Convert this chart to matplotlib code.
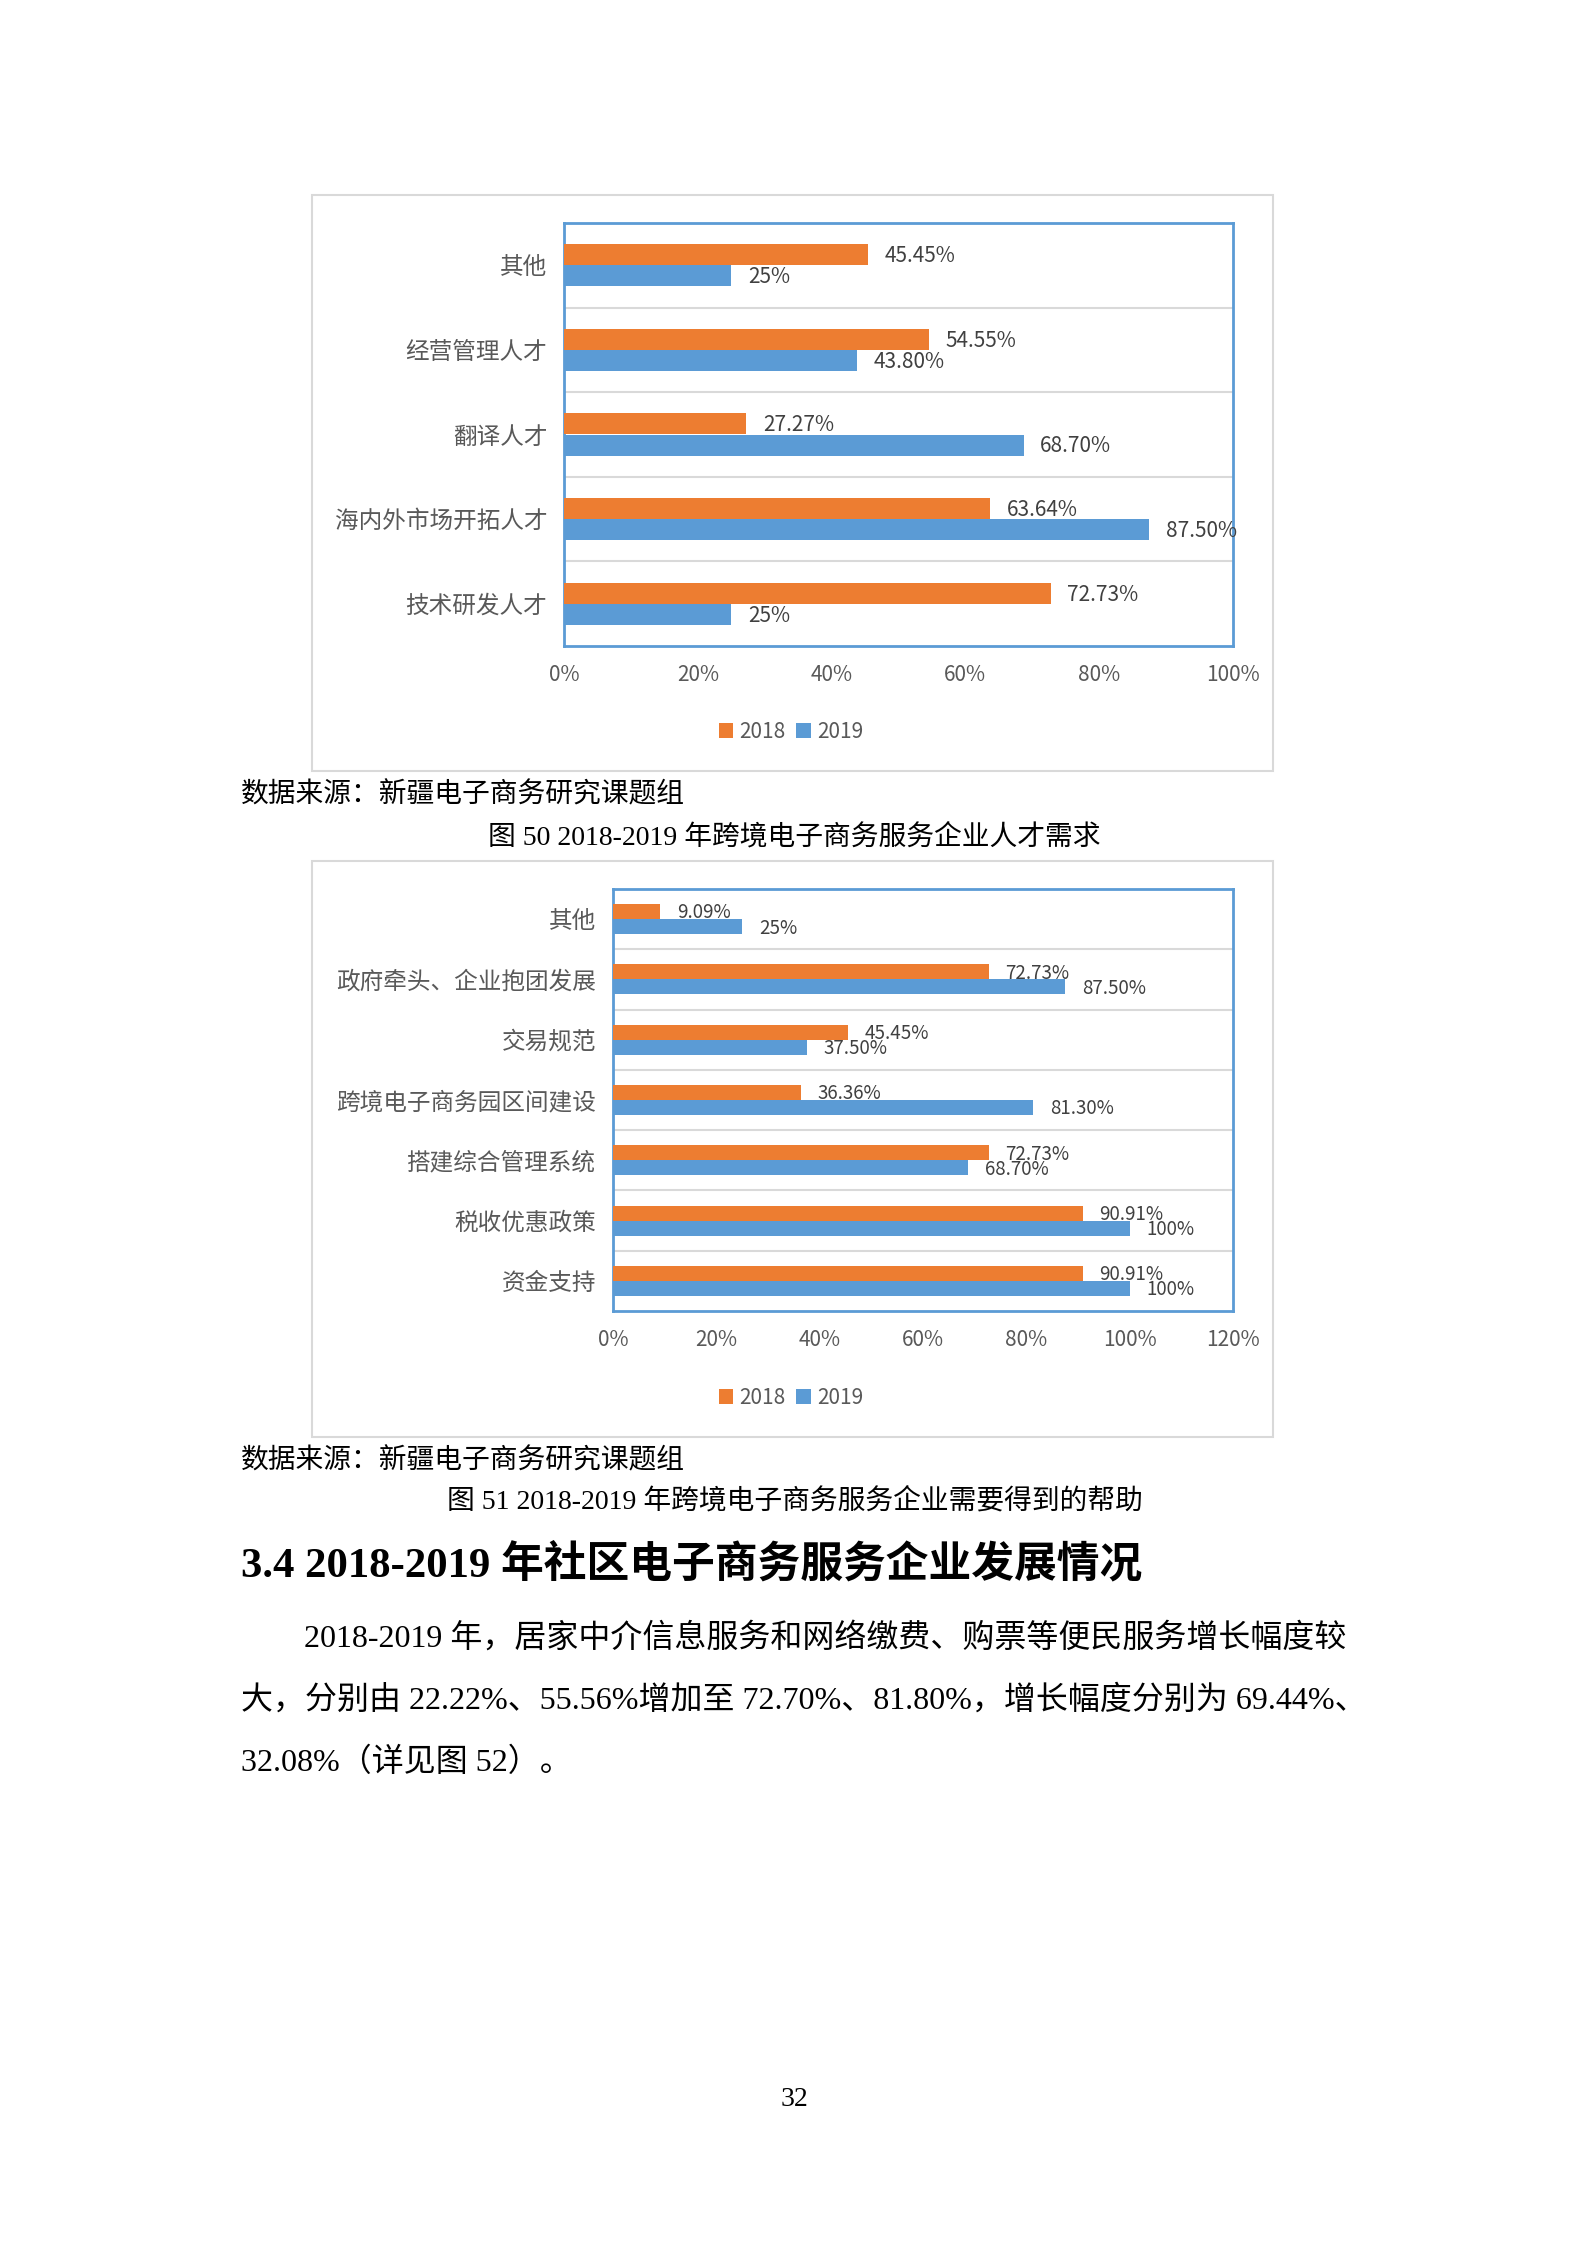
import numpy as np
import matplotlib
matplotlib.use("Agg")
import matplotlib.pyplot as plt
from matplotlib.patches import Rectangle

# page size in pixels
W, H = 1587, 2245
DPI = 100

# figure 50: talent demand
talent_cats = ['其他', '经营管理人才', '翻译人才', '海内外市场开拓人才', '技术研发人才']
talent_2018 = [45.45, 54.55, 27.27, 63.64, 72.73]
talent_2019 = [25, 43.80, 68.70, 87.50, 25]
talent_ticks = [0, 20, 40, 60, 80, 100]

# figure 51: help needed
help_cats = ['其他', '政府牵头、企业抱团发展', '交易规范', '跨境电子商务园区间建设',
             '搭建综合管理系统', '税收优惠政策', '资金支持']
help_2018 = [9.09, 72.73, 45.45, 36.36, 72.73, 90.91, 90.91]
help_2019 = [25, 87.50, 37.50, 81.30, 68.70, 100, 100]
help_ticks = [0, 20, 40, 60, 80, 100, 120]

years = ['2018', '2019']

ORANGE = '#ED7D31'
BLUE = '#5B9BD5'
GRID = '#D9D9D9'
LABEL = '#595959'
DATA = '#404040'

SANS = ['Noto Sans CJK SC', 'DejaVu Sans']
SERIF = ['Liberation Serif', 'Noto Sans CJK SC', 'DejaVu Sans']

plt.rcParams['font.family'] = SANS


def fx(px):
    return px / W


def fy(py):
    return 1 - py / H


def pct(v):
    if float(v).is_integer():
        return f"{v:.0f}%"
    return f"{v:.2f}%"


def draw_chart(fig, box, frame, cats, v18, v19, ticks, legend_y, dl_size):
    left, top, right, bottom = box
    fig.patches.append(Rectangle((fx(frame[0]), fy(frame[3])),
                                 fx(frame[2]) - fx(frame[0]), fy(frame[1]) - fy(frame[3]),
                                 transform=fig.transFigure, fill=False,
                                 edgecolor=GRID, lw=1.5))
    ax = fig.add_axes([fx(left), fy(bottom), fx(right) - fx(left), fy(top) - fy(bottom)])
    y = np.arange(len(cats))
    h = 0.25
    b1 = ax.barh(y - h / 2, v18, height=h, color=ORANGE, label=years[0], zorder=3)
    b2 = ax.barh(y + h / 2, v19, height=h, color=BLUE, label=years[1], zorder=3)
    ax.set_ylim(len(cats) - 0.5, -0.5)
    ax.set_xlim(ticks[0], ticks[-1])
    ax.set_xticks(ticks)
    ax.set_xticklabels([f"{t}%" for t in ticks])
    ax.set_yticks(y)
    ax.set_yticklabels(cats)
    ax.tick_params(axis='x', length=0, pad=13, labelsize=15, labelcolor=LABEL)
    ax.tick_params(axis='y', length=0, pad=12, labelsize=17, labelcolor=LABEL)
    for b in np.arange(0.5, len(cats) - 0.5):
        ax.axhline(b, color=GRID, lw=1.5, zorder=1)
    for s in ax.spines.values():
        s.set_color(BLUE)
        s.set_linewidth(2)
    # data labels just past the bar ends
    for yy, v in zip(y, v18):
        ax.annotate(pct(v), (v, yy - h / 2), xytext=(12, -1), textcoords='offset points',
                    ha='left', va='center', fontsize=dl_size, color=DATA, annotation_clip=False)
    for yy, v in zip(y, v19):
        ax.annotate(pct(v), (v, yy + h / 2), xytext=(12, -1), textcoords='offset points',
                    ha='left', va='center', fontsize=dl_size, color=DATA, annotation_clip=False)
    fig.legend([b1, b2], years, loc='center', bbox_to_anchor=(fx(791), fy(legend_y)),
               ncol=2, frameon=False, handlelength=0.7, handleheight=0.7,
               handletextpad=0.3, columnspacing=0.5, fontsize=15, labelcolor=LABEL)
    return ax


fig = plt.figure(figsize=(W / DPI, H / DPI), dpi=DPI)

draw_chart(fig, (564, 223, 1233, 646), (312, 195, 1273, 771),
           talent_cats, talent_2018, talent_2019, talent_ticks, 732, 15)
draw_chart(fig, (613, 889, 1233, 1311), (312, 861, 1273, 1437),
           help_cats, help_2018, help_2019, help_ticks, 1398, 13.5)

src = '数据来源：新疆电子商务研究课题组'
fig.text(fx(241), fy(795), src, fontsize=20, family=SERIF, va='center', ha='left')
fig.text(fx(794), fy(837), '图 50 2018-2019 年跨境电子商务服务企业人才需求',
         fontsize=20, family=SERIF, va='center', ha='center')
fig.text(fx(241), fy(1461), src, fontsize=20, family=SERIF, va='center', ha='left')
fig.text(fx(795), fy(1501), '图 51 2018-2019 年跨境电子商务服务企业需要得到的帮助',
         fontsize=20, family=SERIF, va='center', ha='center')

fig.text(fx(241), fy(1565), '3.4 2018-2019 年社区电子商务服务企业发展情况',
         fontsize=30.8, family=SERIF, weight='bold', va='center', ha='left')

para = ['2018-2019 年，居家中介信息服务和网络缴费、购票等便民服务增长幅度较',
        '大，分别由 22.22%、55.56%增加至 72.70%、81.80%，增长幅度分别为 69.44%、',
        '32.08%（详见图 52）。']
fig.text(fx(304), fy(1638), para[0], fontsize=23, family=SERIF, va='center', ha='left')
fig.text(fx(241), fy(1700), para[1], fontsize=23, family=SERIF, va='center', ha='left')
fig.text(fx(241), fy(1763), para[2], fontsize=23, family=SERIF, va='center', ha='left')

fig.text(fx(794), fy(2100), '32', fontsize=20, family=SERIF, va='center', ha='center')

fig.savefig('out.png', dpi=DPI)
